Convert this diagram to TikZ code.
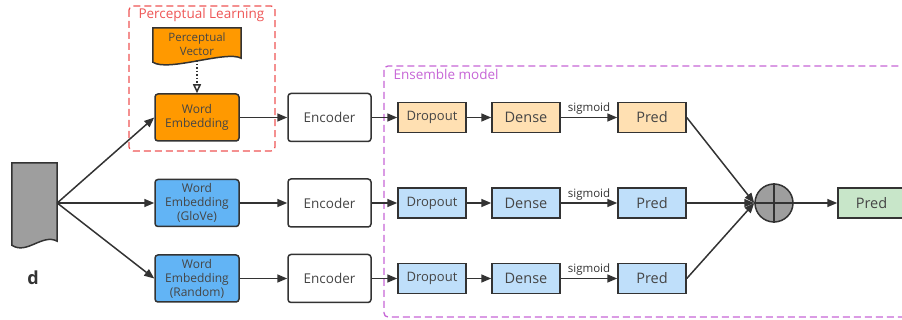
\documentclass[tikz,border=0pt]{standalone}
\usepackage{fontspec}
\setmainfont{Open Sans}
\usetikzlibrary{arrows.meta,calc,positioning,backgrounds}
\definecolor{lineC}{HTML}{333333}
\definecolor{txtC}{HTML}{454545}
\definecolor{orangeC}{HTML}{FF9900}
\definecolor{blueC}{HTML}{62B4F5}
\definecolor{lorangeC}{HTML}{FFE0B2}
\definecolor{lblueC}{HTML}{BFDFFA}
\definecolor{greenC}{HTML}{C8E6C9}
\definecolor{greyC}{HTML}{9E9E9E}
\definecolor{redC}{HTML}{EE5555}
\definecolor{magC}{HTML}{C665D6}
\begin{document}
\begin{tikzpicture}[x=1pt, y=-1pt, font=\fontsize{12}{14}\selectfont, text=txtC,
    arr/.style={-{Triangle[length=10pt,width=8pt]}, draw=lineC, line width=1.5pt},
    wbox/.style={draw=lineC, line width=1.5pt, rounded corners=3pt, minimum width=84pt,
        minimum height=47pt, align=center, inner sep=1pt, font=\fontsize{12}{14}\selectfont},
    encbox/.style={wbox, fill=white, minimum width=83pt, minimum height=48pt, font=\fontsize{13.5}{15}\selectfont},
    sbox/.style={draw=lineC, line width=1.5pt, minimum width=68pt, minimum height=30pt,
        inner sep=1pt, font=\fontsize{13}{15}\selectfont},
    big/.style={font=\fontsize{14.5}{16}\selectfont},
    sig/.style={font=\fontsize{11.5}{13}\selectfont, above, text=lineC, inner sep=2pt},
    grp/.style={line width=1.3pt, dash pattern=on 7pt off 4pt, rounded corners=4pt}]
    \useasboundingbox (0,0) rectangle (902,320);
    \def\rA{117.5}
    \def\rB{203}
    \def\rC{278.5}
    % 文档形状（下边为波浪线）
    \def\docshape#1#2{%
        \draw[draw=lineC, line width=1.5pt, fill=#2] (#1.north west) -- (#1.north east)
            -- ($(#1.south east)+(0,-2)$)
            .. controls ($(#1.south east)+(-15,-10)$) and ($(#1.south west)+(15,12)$) ..
            ($(#1.south west)+(0,2)$) -- cycle;}
    % 虚线分组框
    \draw[grp, draw=redC] (129,6) rectangle (275,151);
    \node[anchor=west, text=redC, font=\fontsize{13.5}{15}\selectfont] (plab) at (135,15) {Perceptual Learning};
    \draw[grp, draw=magC] (384,66) rectangle (912,317);
    \node[anchor=west, text=magC, font=\fontsize{13.5}{15}\selectfont] (elab) at (390,74) {Ensemble model};
    % 输入 d
    \node[minimum width=45pt, minimum height=80pt, inner sep=0pt] (d) at (34.5,\rB) {};
    \docshape{d}{greyC}
    \node[font=\bfseries\fontsize{18}{20}\selectfont, text=lineC] (dlab) at (33,278) {d};
    % 感知向量
    \node[minimum width=88pt, minimum height=32pt, inner sep=0pt, align=center,
        font=\fontsize{11.5}{13.5}\selectfont] (pv) at (197,44) {Perceptual\\Vector};
    \begin{pgfonlayer}{background}
        \docshape{pv}{orangeC}
    \end{pgfonlayer}
    % 词向量
    \node[wbox, fill=orangeC] (we1) at (197,\rA) {Word\\Embedding};
    \node[wbox, fill=blueC] (we2) at (197,\rB) {Word\\Embedding\\(GloVe)};
    \node[wbox, fill=blueC] (we3) at (197,\rC) {Word\\Embedding\\(Random)};
    % 编码器
    \node[encbox] (enc1) at (329.5,\rA) {Encoder};
    \node[encbox] (enc2) at (329.5,\rB) {Encoder};
    \node[encbox] (enc3) at (329.5,\rC) {Encoder};
    % 集成模型
    \node[sbox, fill=lorangeC] (do1) at (432,\rA) {Dropout};
    \node[sbox, fill=lblueC] (do2) at (432,\rB) {Dropout};
    \node[sbox, fill=lblueC] (do3) at (432,\rC) {Dropout};
    \node[sbox, big, fill=lorangeC] (de1) at (526,\rA) {Dense};
    \node[sbox, big, fill=lblueC] (de2) at (526,\rB) {Dense};
    \node[sbox, big, fill=lblueC] (de3) at (526,\rC) {Dense};
    \node[sbox, big, fill=lorangeC] (pr1) at (652,\rA) {Pred};
    \node[sbox, big, fill=lblueC] (pr2) at (652,\rB) {Pred};
    \node[sbox, big, fill=lblueC] (pr3) at (652,\rC) {Pred};
    \node[circle, draw=lineC, line width=1.5pt, fill=greyC, minimum size=38pt, inner sep=0pt] (plus) at (774,\rB) {};
    \draw[lineC, line width=1.5pt] (plus.north) -- (plus.south) (plus.west) -- (plus.east);
    \node[sbox, big, fill=greenC, minimum width=67pt] (out) at (871.5,\rB) {Pred};
    % 连线
    \draw[arr, dotted, -{Triangle[open,length=9pt,width=8pt]}] (pv.south) -- (we1.north);
    \draw[arr] (d.east) -- (we1.west);
    \draw[arr] (d.east) -- (we2.west);
    \draw[arr] (d.east) -- (we3.west);
    \draw[arr] (we1) -- (enc1);
    \draw[arr] (we2) -- (enc2);
    \draw[arr] (we3) -- (enc3);
    \draw[arr] (enc1) -- (do1);
    \draw[arr] (enc2) -- (do2);
    \draw[arr] (enc3) -- (do3);
    \draw[arr] (do1) -- (de1);
    \draw[arr] (do2) -- (de2);
    \draw[arr] (do3) -- (de3);
    \draw[arr] (de1) -- node[sig] {sigmoid} (pr1);
    \draw[arr] (de2) -- node[sig] {sigmoid} (pr2);
    \draw[arr] (de3) -- node[sig] {sigmoid} (pr3);
    \draw[arr] (pr1.east) -- (plus.west);
    \draw[arr] (pr2.east) -- (plus.west);
    \draw[arr] (pr3.east) -- (plus.west);
    \draw[arr] (plus) -- (out);
\end{tikzpicture}
\end{document}
